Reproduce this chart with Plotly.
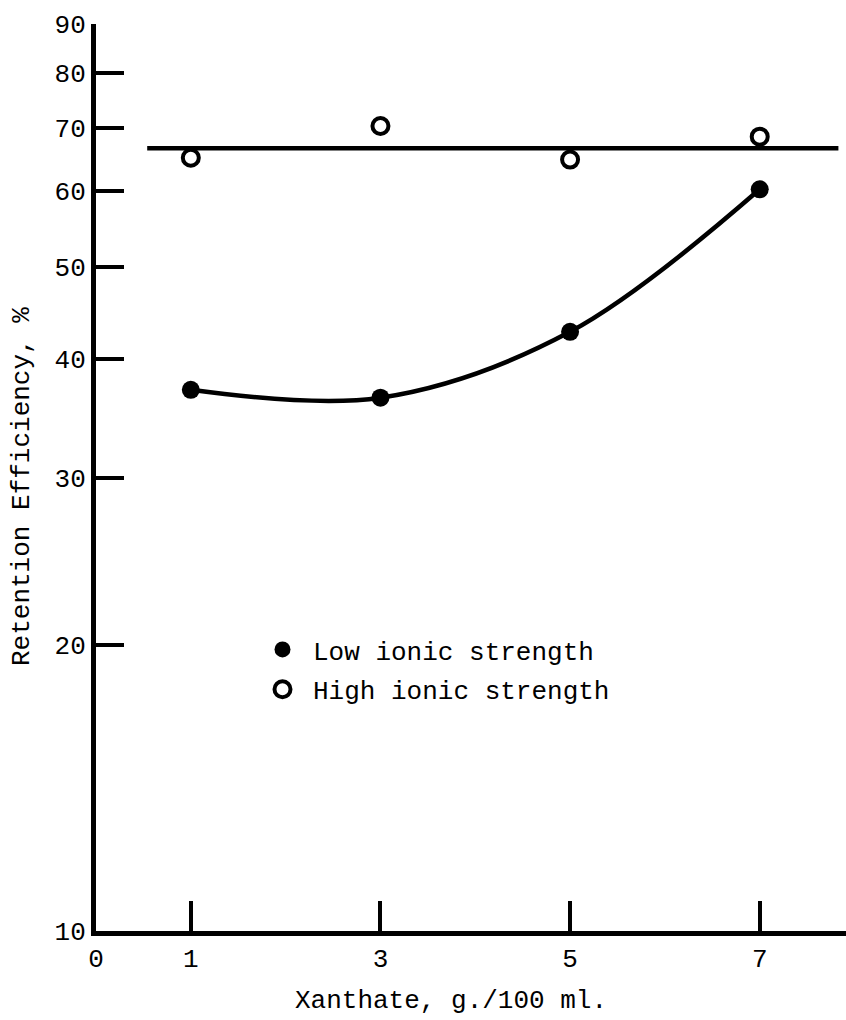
import plotly.graph_objects as go

# Data
xanthate = [1, 3, 5, 7]
low_ionic = [37.1, 36.4, 42.7, 60.3]
high_ionic = [65.1, 70.3, 64.8, 68.5]
high_fit_x = [0.54, 7.83]
high_fit_level = [66.6, 66.6]

x_tickvals = [0, 1, 3, 5, 7]
x_ticktext = ["0", "1", "3", "5", "7"]
y_tickvals = [10, 20, 30, 40, 50, 60, 70, 80, 90]
y_ticktext = [str(v) for v in y_tickvals]

FONT = "Liberation Mono, Courier New, monospace"

fig = go.Figure()

# fitted curves
fig.add_trace(go.Scatter(x=xanthate, y=low_ionic, mode="lines",
                         line=dict(color="black", width=4.5, shape="spline", smoothing=1.0),
                         showlegend=False, hoverinfo="skip"))
fig.add_trace(go.Scatter(x=high_fit_x, y=high_fit_level, mode="lines",
                         line=dict(color="black", width=4.5),
                         showlegend=False, hoverinfo="skip"))

# data points
fig.add_trace(go.Scatter(x=xanthate, y=low_ionic, mode="markers",
                         name="Low ionic strength", legendgroup="low",
                         marker=dict(symbol="circle", size=18, color="black")))
fig.add_trace(go.Scatter(x=xanthate, y=high_ionic, mode="markers",
                         name="High ionic strength", legendgroup="high",
                         marker=dict(symbol="circle-open", size=16, color="black",
                                     line=dict(width=4, color="black"))))

fig.update_layout(
    width=846, height=1020,
    margin=dict(l=96, r=0, t=24, b=89),
    paper_bgcolor="white", plot_bgcolor="white",
    font=dict(family=FONT, size=26, color="black"),
    showlegend=True,
    legend=dict(x=(252 - 96) / 750, y=(931 - 626) / 907, xanchor="left", yanchor="top",
                bgcolor="rgba(0,0,0,0)", font=dict(family=FONT, size=26, color="black"),
                itemwidth=51, traceorder="grouped", tracegroupgap=3),
    xaxis=dict(range=[0, 7.91], showgrid=False, zeroline=False,
               showline=True, linecolor="black", linewidth=5,
               tickmode="array", tickvals=x_tickvals, ticktext=x_ticktext,
               ticks="inside", ticklen=30, tickwidth=4, tickcolor="black",
               tickfont=dict(family=FONT, size=26, color="black")),
    yaxis=dict(type="log", range=[1, 1.9542425], showgrid=False, zeroline=False,
               showline=True, linecolor="black", linewidth=5,
               tickmode="array", tickvals=y_tickvals, ticktext=y_ticktext,
               ticks="inside", ticklen=28, tickwidth=4, tickcolor="black",
               tickfont=dict(family=FONT, size=26, color="black")),
    annotations=[
        dict(text="Xanthate, g./100 ml.", xref="paper", yref="paper",
             x=(451 - 96) / 750, y=-(1001 - 931) / 907, xanchor="center", yanchor="middle",
             showarrow=False, font=dict(family=FONT, size=26, color="black")),
        dict(text="Retention Efficiency, %", xref="paper", yref="paper",
             x=(22 - 96) / 750, y=(931 - 487) / 907, xanchor="center", yanchor="middle",
             textangle=-90, showarrow=False, font=dict(family=FONT, size=26, color="black")),
    ],
)

fig.write_html("out.html")
